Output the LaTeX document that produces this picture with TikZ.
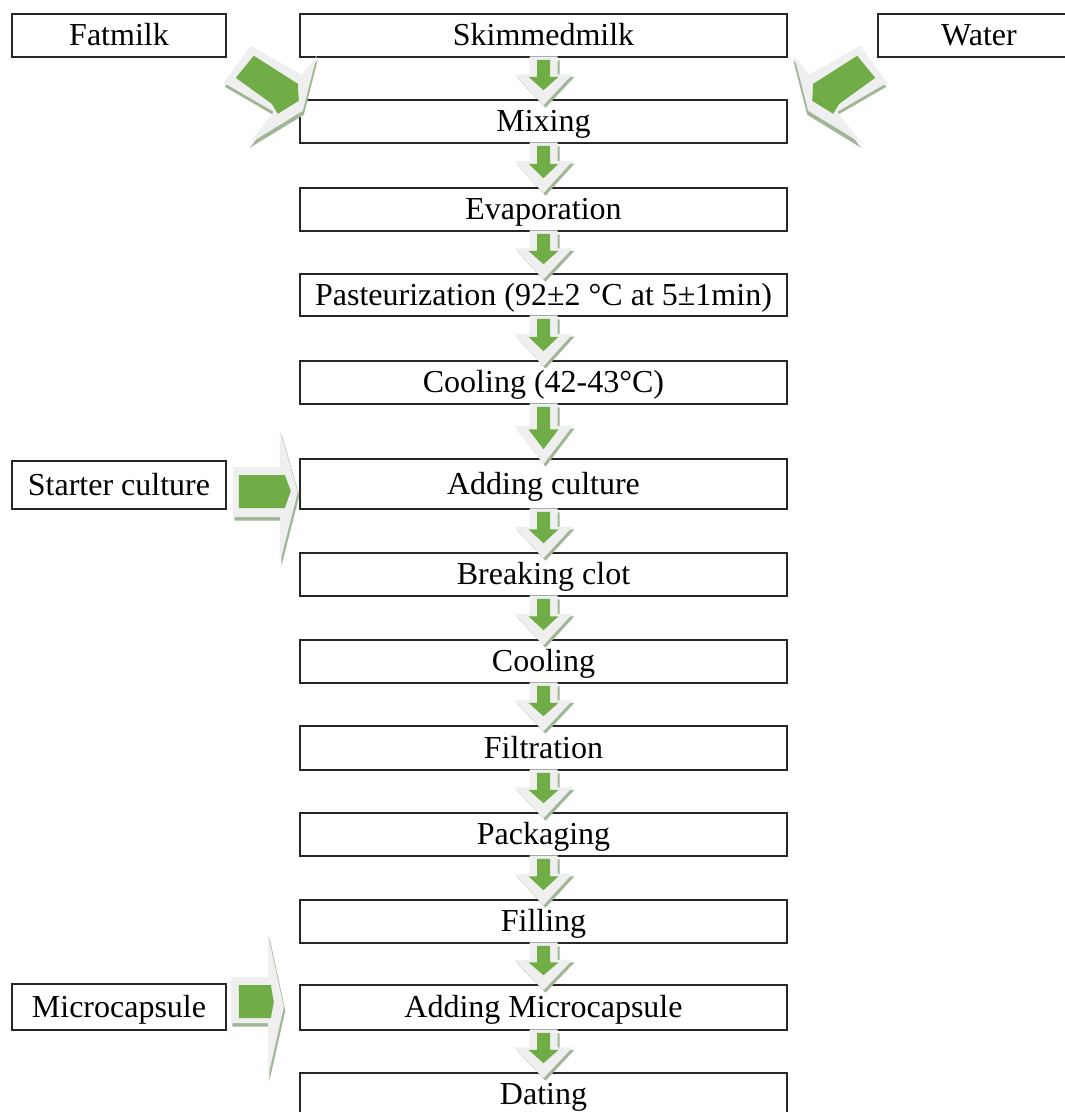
\documentclass[tikz,border=0pt]{standalone}
\usepackage{fontspec}
\setmainfont{Liberation Serif}
\usetikzlibrary{calc}
\definecolor{arrgreen}{HTML}{70AD47}
\definecolor{arrgrey}{HTML}{EFEFEF}
\definecolor{arrshadow}{RGB}{160,182,150}
\tikzset{
  stepbox/.style={draw=black!85, line width=1.6pt, fill=white, inner sep=0pt,
    text height=20pt, text depth=0pt, font=\fontsize{32}{36}\selectfont},
  mainbox/.style={stepbox, minimum width=487pt},
  sidebox/.style={stepbox, minimum width=214pt},
  greyarr/.style={fill=arrgrey},
  greenarr/.style={fill=arrgreen},
  shadowarr/.style={fill=arrshadow},
}
% vertical arrow polygon between two stacked nodes
\newcommand\vpoly[8]{%
  \fill[#3] ($(#1.south)+(-#5,#4)$) -- ($(#1.south)!#7!(#2.north)+(-#5,0)$)
    -- ($(#1.south)!#7!(#2.north)+(-#6,0)$) -- ($(#2.north)+(0,#8)$)
    -- ($(#1.south)!#7!(#2.north)+(#6,0)$) -- ($(#1.south)!#7!(#2.north)+(#5,0)$)
    -- ($(#1.south)+(#5,#4)$) -- cycle;}
\newcommand\downconn[2]{%
  \vpoly{#1}{#2}{shadowarr, transform canvas={shift={(2pt,-2.5pt)}}}{0}{14}{29}{0.4}{6}
  \vpoly{#1}{#2}{greyarr}{-1.5}{14}{29}{0.4}{6}
  \vpoly{#1}{#2}{greenarr}{2}{6.5}{15}{0.46}{-9}}
% diagonal arrow in local coordinates, offset (#2,#3)
\newcommand\diaggrey[3]{%
  \fill[#1] (-3+#2,25+#3) -- (24+#2,-12+#3) -- (75+#2,17+#3) -- (90+#2,-2+#3)
    -- (76+#2,53+#3) -- (22+#2,86+#3) -- (47+#2,54+#3) -- cycle;}
\newcommand\diagarrow{%
  \diaggrey{shadowarr}{1}{4}
  \diaggrey{greyarr}{0}{0}
  \fill[greenarr] (9,20) -- (27,-2) -- (71,26) -- (72,43) -- (51,56) -- (45,46) -- cycle;}
\begin{document}
\begin{tikzpicture}[x=1pt,y=-1pt]
\useasboundingbox (0,0) rectangle (1065,1112);
\clip (0,0) rectangle (1065,1112);
\fill[white] (0,0) rectangle (1065,1112);
% boxes
\node[sidebox, minimum height=43pt] (fat) at (119,35.5) {Fatmilk};
\node[mainbox, minimum height=43pt] (skim) at (543.5,35.5) {Skimmedmilk};
\node[stepbox, minimum width=202pt, minimum height=43pt] (water) at (979,35.5) {Water};
\node[mainbox, minimum height=43pt] (mix) at (543.5,121.5) {Mixing};
\node[mainbox, minimum height=43pt] (evap) at (543.5,209.5) {Evaporation};
\node[mainbox, minimum height=42pt] (past) at (543.5,295) {Pasteurization (92±2 °C at 5±1min)};
\node[mainbox, minimum height=43pt] (cool1) at (543.5,382.5) {Cooling (42-43°C)};
\node[mainbox, minimum height=50pt] (addc) at (543.5,484) {Adding culture};
\node[sidebox, minimum height=48pt] (starter) at (119,485) {Starter culture};
\node[mainbox, minimum height=43pt] (brk) at (543.5,574.5) {Breaking clot};
\node[mainbox, minimum height=43pt] (cool2) at (543.5,661.5) {Cooling};
\node[mainbox, minimum height=44pt] (filt) at (543.5,748) {Filtration};
\node[mainbox, minimum height=43pt] (pack) at (543.5,834.5) {Packaging};
\node[mainbox, minimum height=43pt] (fillg) at (543.5,921.5) {Filling};
\node[mainbox, minimum height=45pt] (addm) at (543.5,1007.5) {Adding Microcapsule};
\node[sidebox, minimum height=46pt] (micro) at (119,1007) {Microcapsule};
\node[mainbox, minimum height=43pt] (date) at (543.5,1094.5) {Dating};
% vertical arrows
\downconn{skim}{mix}
\downconn{mix}{evap}
\downconn{evap}{past}
\downconn{past}{cool1}
\downconn{cool1}{addc}
\downconn{addc}{brk}
\downconn{brk}{cool2}
\downconn{cool2}{filt}
\downconn{filt}{pack}
\downconn{pack}{fillg}
\downconn{fillg}{addm}
\downconn{addm}{date}
% diagonal arrows
\begin{scope}[shift={(fat.south east)}]
  \diagarrow
\end{scope}
\begin{scope}[shift={($(water.south west)+(7,0)$)}, xscale=-1]
  \diagarrow
\end{scope}
% starter culture arrow
\begin{scope}[shift={(starter.east)}]
  \fill[shadowarr] (7.5,-14.5) -- (54.5,-14.5) -- (54.5,-51.5) -- (72.5,10.5) -- (54.5,81.5) -- (54.5,35.5) -- (7.5,35.5) -- cycle;
  \fill[greyarr] (6,-18) -- (53,-18) -- (53,-55) -- (71,7) -- (53,78) -- (53,32) -- (6,32) -- cycle;
  \fill[greenarr] (12,-10) -- (58,-10) -- (64,6) -- (58,23) -- (12,23) -- cycle;
\end{scope}
% microcapsule arrow
\begin{scope}[shift={(micro.east)}]
  \fill[shadowarr] (5.5,-26.5) -- (42.5,-26.5) -- (42.5,-70.5) -- (58.5,3.5) -- (42.5,74.5) -- (42.5,19.5) -- (5.5,19.5) -- cycle;
  \fill[greyarr] (4,-30) -- (41,-30) -- (41,-74) -- (57,0) -- (41,71) -- (41,16) -- (4,16) -- cycle;
  \fill[greenarr] (12,-22) -- (44,-22) -- (47,-5) -- (44,11) -- (12,11) -- cycle;
\end{scope}
\end{tikzpicture}
\end{document}
